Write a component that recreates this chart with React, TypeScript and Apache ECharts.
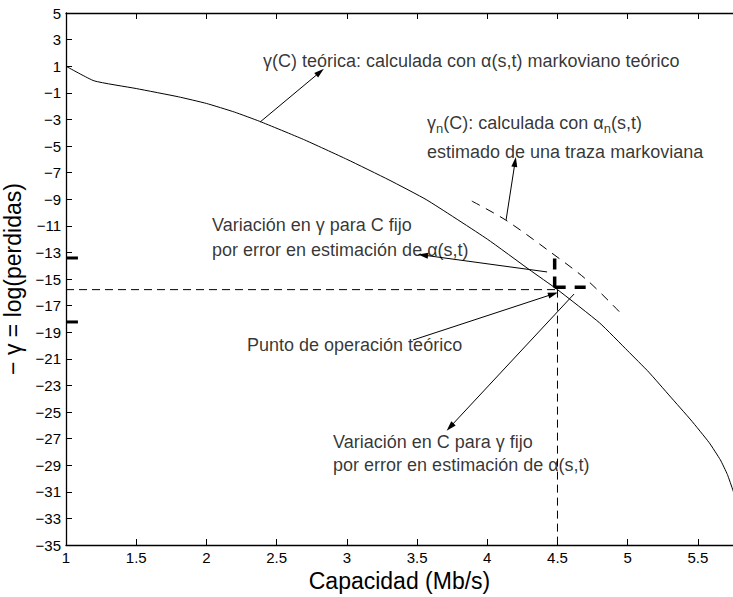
import React, { useEffect, useRef } from "react";
import * as echarts from "echarts";

// ---- data ----
const capacity = [1, 1.2, 1.5, 1.8, 2.0, 2.2, 2.38, 2.69, 3.0, 3.3, 3.57, 4.0, 4.3, 4.5, 4.8, 5.0, 5.15, 5.3, 5.45, 5.58, 5.66, 5.71, 5.75, 5.78];
const gammaTheory = [1, -0.1, -0.68, -1.3, -1.8, -2.45, -3.15, -4.5, -6.0, -7.55, -9.06, -12.0, -14.3, -15.8, -18.3, -20.4, -22.0, -23.8, -25.6, -27.3, -28.6, -29.7, -30.9, -32];

const capacityN = [3.89, 4.13, 4.43, 4.71, 4.97];
const gammaN = [-9.14, -10.56, -12.82, -15.08, -17.78];

const opC = 4.5;
const opGamma = -15.8;
const gammaRange = [-13.42, -18.23];
const crossTopGamma = -13.45;
const crossRightC = 4.72;

const xTicks = { min: 1, max: 5.75, interval: 0.5 };
const yTicks = { min: -35, max: 5, interval: 2 };

const arrows: [number, number, number, number][] = [
  [2.382, -3.2, 2.809, 0.56],
  [4.134, -10.56, 4.198, -6.2],
  [4.426, -14.47, 3.543, -13.2],
  [3.471, -19.59, 4.469, -16.13],
  [4.618, -16.13, 3.735, -26.13],
];

const notes: [number, number, string][] = [
  [2.403, 1.39, "γ(C) teórica: calculada con α(s,t) markoviano teórico"],
  [3.571, -3.27, "{t|γ}{sub|n}{t|(C): calculada con α}{sub|n}{t|(s,t)}"],
  [3.571, -5.45, "estimado de una traza markoviana"],
  [2.04, -10.94, "Variación en γ para C fijo"],
  [2.04, -12.82, "por error en estimación de α(s,t)"],
  [2.289, -19.96, "Punto de operación teórico"],
  [2.902, -27.26, "Variación en C para γ fijo"],
  [2.902, -28.98, "por error en estimación de α(s,t)"],
];

const FONT = "'Liberation Sans', Arial, Helvetica, sans-serif";

export default function App() {
  const ref = useRef<HTMLDivElement>(null);
  useEffect(() => {
    if (!ref.current) return;
    const chart = echarts.init(ref.current, undefined, { renderer: "svg" });
    const zip = (a: number[], b: number[]) => a.map((v, i) => [v, b[i]]);
    const seg = (x1: number, y1: number, x2: number, y2: number, w: number, dash: number[] | string) => ({
      type: "line",
      data: [[x1, y1], [x2, y2]],
      showSymbol: false,
      symbol: "none",
      silent: true,
      lineStyle: { color: "#000", width: w, type: dash },
    });
    const mkLine = () => ({ show: true, onZero: false, lineStyle: { color: "#000", width: 1.3 } });
    const mkTick = () => ({ show: true, inside: true, length: 6, lineStyle: { color: "#000", width: 1 } });
    const option: any = {
      animation: false,
      backgroundColor: "#fff",
      textStyle: { fontFamily: FONT },
      grid: { left: 66, right: 0, top: 13, bottom: 52, containLabel: false, outerBoundsMode: "none" },
      xAxis: [
        {
          type: "value",
          min: xTicks.min,
          max: xTicks.max,
          interval: xTicks.interval,
          name: "Capacidad (Mb/s)",
          nameLocation: "middle",
          nameGap: 22,
          nameTextStyle: { fontSize: 23, color: "#000", fontFamily: FONT },
          axisLine: mkLine(),
          axisTick: mkTick(),
          axisLabel: { fontSize: 15, color: "#000", margin: 5, showMaxLabel: false, fontFamily: FONT },
          splitLine: { show: false },
        },
        {
          type: "value",
          position: "top",
          min: xTicks.min,
          max: xTicks.max,
          interval: xTicks.interval,
          axisLine: mkLine(),
          axisTick: mkTick(),
          axisLabel: { show: false },
          splitLine: { show: false },
        },
      ],
      yAxis: {
        type: "value",
        min: yTicks.min,
        max: yTicks.max,
        interval: yTicks.interval,
        name: "− γ = log(perdidas)",
        nameLocation: "middle",
        nameGap: 33,
        nameTextStyle: { fontSize: 23, color: "#000", fontFamily: FONT },
        axisLine: mkLine(),
        axisTick: mkTick(),
        axisLabel: {
          fontSize: 15,
          color: "#000",
          margin: 5,
          fontFamily: FONT,
          formatter: (v: number) => (v < 0 ? "−" + Math.abs(v) : String(v)),
        },
        splitLine: { show: false },
      },
      series: [
        {
          type: "line",
          data: zip(capacity, gammaTheory),
          showSymbol: false,
          symbol: "none",
          smooth: 0.15,
          lineStyle: { color: "#000", width: 1 },
        },
        {
          type: "line",
          data: zip(capacityN, gammaN),
          showSymbol: false,
          symbol: "none",
          smooth: 0.3,
          lineStyle: { color: "#000", width: 1, type: [9, 7] },
        },
        {
          ...seg(xTicks.min, opGamma, opC, opGamma, 1, [8, 5]),
          markLine: {
            silent: true,
            symbol: ["none", "triangle"],
            symbolSize: [6, 10],
            label: { show: false },
            lineStyle: { color: "#000", width: 1, type: "solid" },
            data: arrows.map(([x1, y1, x2, y2]) => [{ coord: [x1, y1] }, { coord: [x2, y2] }]),
          },
        },
        seg(opC, opGamma, opC, yTicks.min, 1, [8, 5]),
        seg(xTicks.min, gammaRange[0], 1.085, gammaRange[0], 3, "solid"),
        seg(xTicks.min, gammaRange[1], 1.085, gammaRange[1], 3, "solid"),
        seg(4.48, crossTopGamma, 4.48, -15.75, 3.5, [11, 7]),
        seg(4.48, -15.62, crossRightC, -15.62, 3.5, [11, 9]),
        {
          type: "scatter",
          symbolSize: 0,
          silent: true,
          data: notes.map(([x, y, t]) => ({
            value: [x, y],
            label: { formatter: t },
          })),
          label: {
            show: true,
            position: "right",
            distance: 0,
            color: "#000",
            fontSize: 18,
            fontFamily: FONT,
            rich: {
              t: { fontSize: 18, color: "#000", fontFamily: FONT },
              sub: { fontSize: 13, color: "#000", fontFamily: FONT, padding: [12, 0, 0, 0] },
            },
          },
        },
      ],
    };
    chart.setOption(option);
    return () => chart.dispose();
  }, []);
  return (
    <div
      ref={ref}
      style={{ position: "fixed", left: 0, top: 0, width: 733, height: 597, background: "#fff" }}
    />
  );
}
